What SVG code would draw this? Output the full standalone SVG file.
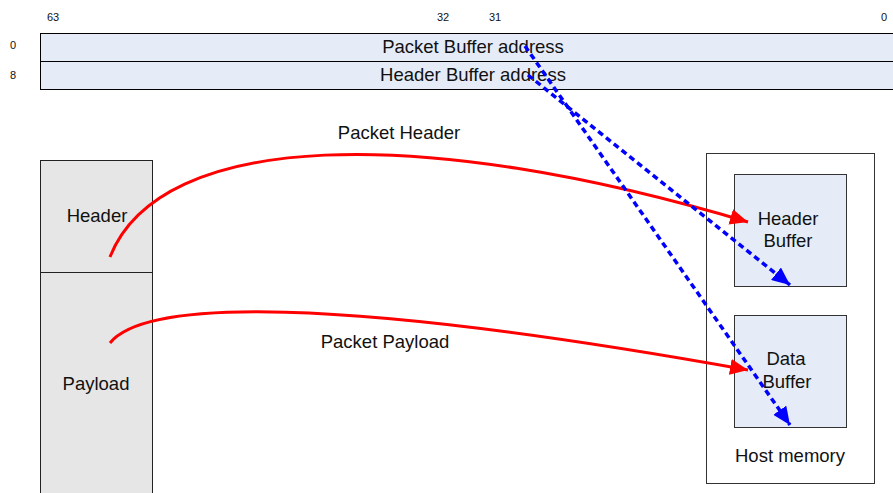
<svg xmlns="http://www.w3.org/2000/svg" width="893" height="493" viewBox="0 0 893 493">
<style>
text{font-family:"Liberation Sans",Arial,sans-serif;fill:#111}
.s{font-size:11px}
.m{font-size:18.5px;text-anchor:middle}
.reg{fill:#e5ecf7;stroke:#000;stroke-width:1}
.pk{fill:#e6e6e6;stroke:#222;stroke-width:1}
.buf{fill:#e5ecf7;stroke:#333;stroke-width:1}
.red{fill:none;stroke:#f00;stroke-width:3}
.blue{fill:none;stroke:#00f;stroke-width:3.5;stroke-dasharray:6,4}
</style>
<defs>
<marker id="ar" markerUnits="userSpaceOnUse" markerWidth="20" markerHeight="16" refX="18" refY="8" orient="auto"><path d="M0,0 L18,8 L0,16 z" fill="#f00"/></marker>
<marker id="ab" markerUnits="userSpaceOnUse" markerWidth="20" markerHeight="16" refX="18" refY="8" orient="auto"><path d="M0,0 L18,8 L0,16 z" fill="#00f"/></marker>
</defs>
<g id="bits">
<text class="s" x="47" y="21">63</text>
<text class="s" x="437" y="21">32</text>
<text class="s" x="489" y="21">31</text>
<text class="s" x="881" y="21">0</text>
<text class="s" x="10" y="49">0</text>
<text class="s" x="10" y="79">8</text>
</g>
<g id="reg0"><rect class="reg" x="40.5" y="33.5" width="860" height="28"/><text class="m" x="473" y="53">Packet Buffer address</text></g>
<g id="reg8"><rect class="reg" x="40.5" y="61.5" width="860" height="28"/><text class="m" x="473" y="81">Header Buffer address</text></g>
<g id="pktHeader"><rect class="pk" x="40.5" y="160.5" width="112" height="112"/><text class="m" x="97" y="222">Header</text></g>
<g id="pktPayload"><rect class="pk" x="40.5" y="272.5" width="112" height="230"/><text class="m" x="96" y="390">Payload</text></g>
<g id="host"><rect x="706.5" y="153.5" width="168" height="330" fill="#fff" stroke="#333"/><text class="m" x="790" y="462">Host memory</text></g>
<g id="hdrBuf"><rect class="buf" x="734.5" y="174.5" width="112" height="112"/><text class="m" x="788" y="225">Header</text><text class="m" x="788" y="247">Buffer</text></g>
<g id="dataBuf"><rect class="buf" x="734.5" y="315.5" width="112" height="112"/><text class="m" x="786" y="365">Data</text><text class="m" x="787" y="388">Buffer</text></g>
<g id="connectors">
<path class="red" d="M110,257 C160,130 420,124 748,222" marker-end="url(#ar)"/>
<path class="red" d="M110,343 C145,300 330,295 748,370" marker-end="url(#ar)"/>
<path class="blue" d="M525,46 L790,425" marker-end="url(#ab)"/>
<path class="blue" d="M528,75 L790,285" marker-end="url(#ab)"/>
<text class="m" x="399" y="139">Packet Header</text>
<text class="m" x="385" y="348">Packet Payload</text>
</g>
</svg>
